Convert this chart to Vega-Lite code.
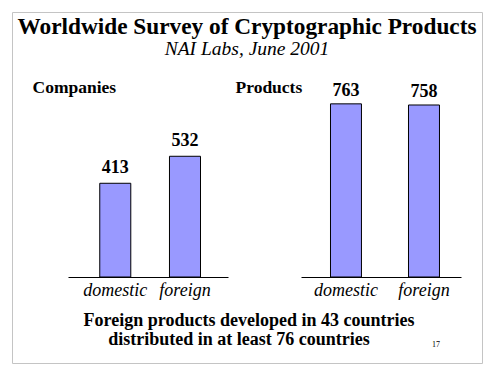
{
  "$schema": "https://vega.github.io/schema/vega-lite/v6.json",
  "width": 470,
  "height": 351,
  "autosize": {"type": "none"},
  "padding": {"left": 12, "top": 12, "right": 6, "bottom": 7},
  "background": "white",
  "config": {
    "view": {"stroke": "#c4c4c4", "strokeWidth": 1},
    "font": "Liberation Serif"
  },
  "title": {
    "text": "Worldwide Survey of Cryptographic Products",
    "subtitle": "NAI Labs, June 2001",
    "anchor": "middle",
    "frame": "group",
    "orient": "top",
    "offset": -47,
    "subtitlePadding": 0,
    "font": "Liberation Serif",
    "fontSize": 23.3,
    "fontWeight": "bold",
    "color": "black",
    "subtitleFont": "Liberation Serif",
    "subtitleFontSize": 19.5,
    "subtitleFontStyle": "italic",
    "subtitleColor": "black"
  },
  "resolve": {
    "scale": {"x": "independent", "y": "independent"},
    "axis": {"x": "independent", "y": "independent"}
  },
  "layer": [
    {
      "data": {"values": [
        {"kind": "domestic", "count": 413},
        {"kind": "foreign", "count": 532}
      ]},
      "encoding": {
        "x": {
          "field": "kind", "type": "nominal",
          "scale": {"type": "band", "range": [56, 216], "paddingInner": 0.555, "paddingOuter": 0.425, "align": 0.536},
          "axis": {
            "orient": "bottom", "offset": -86, "domainColor": "black", "domainWidth": 1,
            "ticks": false, "tickSize": 0, "grid": false, "labelAngle": 0,
            "labelFont": "Liberation Serif", "labelFontStyle": "italic", "labelFontSize": 18,
            "labelColor": "black", "labelPadding": 4,
            "title": "Companies", "titleFont": "Liberation Serif", "titleFontSize": 17.5,
            "titleFontWeight": "bold", "titleColor": "black", "titleAlign": "left",
            "titleBaseline": "alphabetic", "titleX": 20, "titleY": -185
          }
        },
        "y": {
          "field": "count", "type": "quantitative",
          "scale": {"domain": [0, 780], "range": [265, 88]},
          "axis": null
        }
      },
      "layer": [
        {"mark": {"type": "bar", "fill": "#9999ff", "stroke": "black", "strokeWidth": 1}},
        {
          "mark": {"type": "text", "baseline": "alphabetic", "dy": -10.5, "fontSize": 18, "fontWeight": "bold", "font": "Liberation Serif", "color": "black"},
          "encoding": {"text": {"field": "count", "type": "quantitative"}}
        }
      ]
    },
    {
      "data": {"values": [
        {"kind": "domestic", "count": 763},
        {"kind": "foreign", "count": 758}
      ]},
      "encoding": {
        "x": {
          "field": "kind", "type": "nominal",
          "scale": {"type": "band", "range": [289, 449], "paddingInner": 0.603, "paddingOuter": 0.327, "align": 0.578},
          "axis": {
            "orient": "bottom", "offset": -86, "domainColor": "black", "domainWidth": 1,
            "ticks": false, "tickSize": 0, "grid": false, "labelAngle": 0,
            "labelFont": "Liberation Serif", "labelFontStyle": "italic", "labelFontSize": 18,
            "labelColor": "black", "labelPadding": 4,
            "title": "Products", "titleFont": "Liberation Serif", "titleFontSize": 17.5,
            "titleFontWeight": "bold", "titleColor": "black", "titleAlign": "left",
            "titleBaseline": "alphabetic", "titleX": 223, "titleY": -185
          }
        },
        "y": {
          "field": "count", "type": "quantitative",
          "scale": {"domain": [0, 780], "range": [265, 88]},
          "axis": null
        }
      },
      "layer": [
        {"mark": {"type": "bar", "fill": "#9999ff", "stroke": "black", "strokeWidth": 1}},
        {
          "mark": {"type": "text", "baseline": "alphabetic", "dy": -7.5, "fontSize": 18, "fontWeight": "bold", "font": "Liberation Serif", "color": "black"},
          "encoding": {"text": {"field": "count", "type": "quantitative"}}
        }
      ]
    },
    {
      "encoding": {
        "y": {
          "field": "row", "type": "ordinal",
          "scale": {"type": "point", "domain": ["1", "2"], "range": [314, 333], "padding": 0},
          "axis": null
        },
        "text": {"field": "text", "type": "nominal"}
      },
      "layer": [
        {
          "data": {"values": [{"row": "1", "text": "Foreign products developed in 43 countries"}]},
          "mark": {"type": "text", "baseline": "alphabetic", "dx": 2, "fontSize": 18, "fontWeight": "bold", "font": "Liberation Serif", "color": "black"}
        },
        {
          "data": {"values": [{"row": "2", "text": "distributed in at least 76 countries"}]},
          "mark": {"type": "text", "baseline": "alphabetic", "dx": -8, "fontSize": 18, "fontWeight": "bold", "font": "Liberation Serif", "color": "black"}
        },
        {
          "data": {"values": [{"row": "2", "text": "17"}]},
          "mark": {"type": "text", "baseline": "alphabetic", "dx": 189, "dy": 2, "fontSize": 8, "font": "Liberation Serif", "color": "black"}
        }
      ]
    }
  ]
}
